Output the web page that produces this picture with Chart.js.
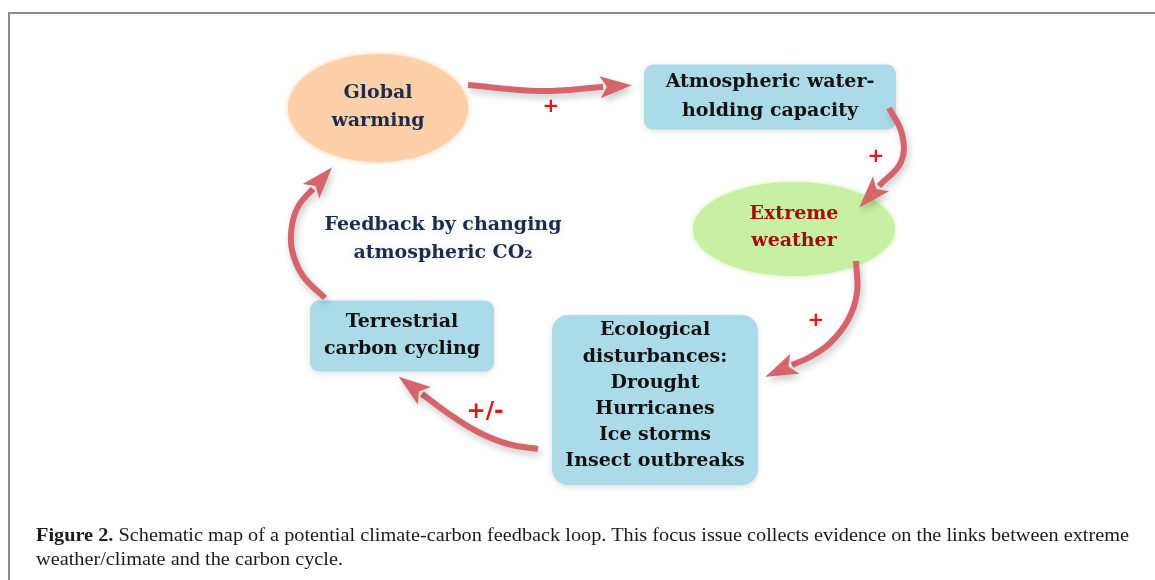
<!DOCTYPE html>
<html>
<head>
<meta charset="utf-8">
<script src="https://cdn.jsdelivr.net/npm/chart.js@4/dist/chart.umd.min.js"></script>
<style>
  html, body { margin: 0; padding: 0; background: #fff; width: 1155px; height: 580px; overflow: hidden; }
  #frame { position: absolute; left: 8px; top: 12px; width: 1147px; height: 570px; box-sizing: border-box;
           border-top: 2px solid #8c8c8c; border-left: 2px solid #8c8c8c; }
  #chart { position: absolute; left: 0; top: 0; }
  #caption { position: absolute; left: 36px; top: 523px; font-family: "Liberation Serif", serif; font-size: 18px;
             line-height: 24px; color: #1a1a1a; white-space: nowrap; }
  #caption span { display: inline-block; transform-origin: 0 0; }
</style>
</head>
<body>
<div id="frame"></div>
<canvas id="chart" width="1155" height="580"></canvas>
<div id="caption">
  <span id="cap1"><b>Figure 2.</b> Schematic map of a potential climate-carbon feedback loop. This focus issue collects evidence on the links between extreme</span><br>
  <span id="cap2">weather/climate and the carbon cycle.</span>
</div>
<script>
// diagram nodes (text lines + centre in chart units)
const nodeLines = [
  ['Global', 'warming'],
  ['Atmospheric water-', 'holding capacity'],
  ['Extreme', 'weather'],
  ['Ecological', 'disturbances:', 'Drought', 'Hurricanes', 'Ice storms', 'Insect outbreaks'],
  ['Terrestrial', 'carbon cycling'],
]
const nodeX = [378, 770, 794, 655, 402]
const nodeY = [108, 97, 229, 400, 336]

// arrows: points along each curve, the head continues from the last one
const arrowPaths = [
  [[468, 85], [540, 91], [603, 87]],
  [[889, 108], [902, 134], [901, 162], [879, 186]],
  [[856, 261], [857, 293], [848, 320], [830, 343], [810, 357], [792, 365]],
  [[538, 449], [508, 444], [478, 432], [449, 414], [422, 394]],
  [[325, 298], [303, 276], [292, 250], [292, 225], [299, 205], [313, 189]],
]

// signs on the arrows
const signLabels = ['+', '+', '+', '+/-']
const signX = [551, 876, 816, 485]
const signY = [107, 157, 321, 412]

// centre note
const noteLines = ['Feedback by changing', 'atmospheric CO\u2082']
const noteX = 443
const noteY = [225, 253]

// styles
const nodeStyle = [
  { shape: 'ellipse', w: 182, h: 110, fill: '#fdd0aa', color: '#1e2c4c', gap: 28, dy: -1 },
  { shape: 'box', w: 252, h: 65, fill: '#abdbe9', color: '#111111', gap: 29, dy: 0 },
  { shape: 'ellipse', w: 204, h: 96, fill: '#c7f0a3', color: '#a30d0d', gap: 27, dy: -1 },
  { shape: 'box', w: 206, h: 170, fill: '#abdbe9', color: '#111111', gap: 26.2, dy: -4, r: 16 },
  { shape: 'box', w: 184, h: 71, fill: '#abdbe9', color: '#111111', gap: 27, dy: 0 },
]
const arrowColor = '#d6656b'
const headLen = 29
const headHalf = 11
const nodeFont = 'bold 19px "DejaVu Serif"'

const diagram = {
  id: 'diagram',
  beforeDatasetsDraw(chart) {
    const { ctx, scales: { x, y } } = chart
    nodeX.forEach((nx, i) => {
      const st = nodeStyle[i]
      const cx = x.getPixelForValue(nx)
      const cy = y.getPixelForValue(nodeY[i])
      const hw = Math.abs(x.getPixelForValue(nx + st.w / 2) - cx)
      const hh = Math.abs(y.getPixelForValue(nodeY[i] + st.h / 2) - cy)
      ctx.save()
      ctx.fillStyle = st.fill
      ctx.beginPath()
      if (st.shape === 'ellipse') {
        // soft, feathered edge
        ctx.shadowColor = st.fill
        ctx.shadowBlur = 5
        ctx.ellipse(cx, cy, hw - 1, hh - 1, 0, 0, Math.PI * 2)
      } else {
        ctx.shadowColor = 'rgba(0,0,0,0.13)'
        ctx.shadowBlur = 6
        ctx.shadowOffsetY = 2
        ctx.roundRect(cx - hw, cy - hh, hw * 2, hh * 2, st.r || 9)
      }
      ctx.fill()
      ctx.restore()
    })
    // soft shadow under arrows
    ctx.save()
    ctx.shadowColor = 'rgba(0,0,0,0.22)'
    ctx.shadowBlur = 7
    ctx.shadowOffsetX = 2
    ctx.shadowOffsetY = 4
  },
  afterDatasetsDraw(chart) {
    const { ctx, scales: { x, y } } = chart
    arrowPaths.forEach(p => {
      const a = p[p.length - 2], b = p[p.length - 1]
      const ax = x.getPixelForValue(a[0]), ay = y.getPixelForValue(a[1])
      const bx = x.getPixelForValue(b[0]), by = y.getPixelForValue(b[1])
      const len = Math.hypot(bx - ax, by - ay)
      const ux = (bx - ax) / len, uy = (by - ay) / len
      const tx = bx + ux * headLen, ty = by + uy * headLen
      ctx.fillStyle = arrowColor
      ctx.beginPath()
      ctx.moveTo(tx, ty)
      ctx.lineTo(bx - uy * headHalf - ux * 3, by + ux * headHalf - uy * 3)
      ctx.lineTo(bx + ux * 4, by + uy * 4)
      ctx.lineTo(bx + uy * headHalf - ux * 3, by - ux * headHalf - uy * 3)
      ctx.closePath()
      ctx.fill()
    })
    ctx.restore()

    ctx.save()
    ctx.textAlign = 'center'
    ctx.textBaseline = 'middle'
    ctx.font = nodeFont
    nodeLines.forEach((lines, i) => {
      const st = nodeStyle[i]
      const cx = x.getPixelForValue(nodeX[i])
      const cy = y.getPixelForValue(nodeY[i]) + st.dy
      ctx.fillStyle = st.color
      lines.forEach((t, k) => {
        ctx.fillText(t, cx, cy + (k - (lines.length - 1) / 2) * st.gap)
      })
    })
    // note in the middle
    ctx.fillStyle = '#1e2c4c'
    ctx.shadowColor = 'rgba(0,0,0,0.12)'
    ctx.shadowBlur = 8
    noteLines.forEach((t, k) => {
      ctx.fillText(t, x.getPixelForValue(noteX), y.getPixelForValue(noteY[k]))
    })
    ctx.shadowColor = 'transparent'
    // signs
    ctx.fillStyle = '#e3151a'
    signLabels.forEach((s, k) => {
      ctx.font = s.length > 1 ? 'bold 23px "DejaVu Sans"' : 'bold 20px "DejaVu Sans"'
      ctx.fillText(s, x.getPixelForValue(signX[k]), y.getPixelForValue(signY[k]))
    })
    ctx.restore()
  }
}

new Chart(document.getElementById('chart'), {
  type: 'scatter',
  data: {
    datasets: arrowPaths.map(p => ({
      type: 'line',
      showLine: true,
      data: p.map(([a, b]) => ({ x: a, y: b })),
      borderColor: arrowColor,
      borderWidth: 6,
      borderCapStyle: 'butt',
      tension: 0.4,
      pointRadius: 0,
      fill: false,
    }))
  },
  options: {
    responsive: false,
    animation: false,
    events: [],
    layout: { padding: 0 },
    plugins: { legend: { display: false }, tooltip: { enabled: false } },
    scales: {
      x: { type: 'linear', min: 0, max: 1155, display: false },
      y: { type: 'linear', min: 0, max: 580, reverse: true, display: false }
    }
  },
  plugins: [diagram]
})

// fit caption to the width of the printed line
const cap1 = document.getElementById('cap1')
const cap2 = document.getElementById('cap2')
const k = 1093 / cap1.getBoundingClientRect().width
cap1.style.transform = `scaleX(${k})`
cap2.style.transform = `scaleX(${k})`
</script>
</body>
</html>
